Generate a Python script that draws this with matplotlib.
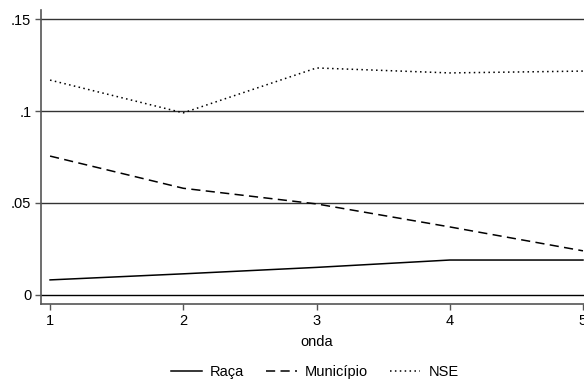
import matplotlib
matplotlib.use('Agg')
import matplotlib.pyplot as plt

plt.rcParams['font.family'] = ['Liberation Sans', 'DejaVu Sans']

onda = [1, 2, 3, 4, 5]
raca = [0.0082, 0.0115, 0.0150, 0.0190, 0.0190]
municipio = [0.0755, 0.0580, 0.0495, 0.0370, 0.0240]
nse = [0.1168, 0.0990, 0.1234, 0.1207, 0.1217]
yticks = [0, 0.05, 0.1, 0.15]
ytick_labels = ['0', '.05', '.1', '.15']

W, H = 584, 382
fig = plt.figure(figsize=(W / 100, H / 100), dpi=100)
# axes box in pixels: left 41, top 10, bottom 304, x=5 at 583 (right side is cut off)
x0, x1 = 0.932, 5.068
left_px, top_px, bot_px = 41, 10, 304
right_px = 583 + (583 - 450) * (x1 - 5)
ax = fig.add_axes([left_px / W, 1 - bot_px / H, (right_px - left_px) / W, (bot_px - top_px) / H])

for v in yticks:
    ax.axhline(v, color='black' if v == 0 else '#333333', lw=1.0, zorder=1)

ax.plot(onda, raca, color='black', lw=1.1, ls='-', label='Raça')
ax.plot(onda, municipio, color='black', lw=1.1, ls=(0, (6, 3.5)), label='Município')
ax.plot(onda, nse, color='black', lw=1.1, ls=(0, (1, 2.2)), label='NSE')

ax.set_xlim(x0, x1)
ax.set_ylim(-0.0049, 0.1549)
ax.set_xticks(onda)
ax.set_yticks(yticks)
ax.set_yticklabels(ytick_labels)
ax.tick_params(labelsize=10.5, color='#555555', length=4, width=1)
ax.tick_params(axis='y', pad=3)
ax.set_xlabel('onda', fontsize=10.5, labelpad=5)

for s in ['top', 'right']:
    ax.spines[s].set_visible(False)
for s in ['left', 'bottom']:
    ax.spines[s].set_color('#555555')
    ax.spines[s].set_linewidth(1.2)

fig.legend(loc='center', bbox_to_anchor=(315 / W, 1 - 372 / H), ncol=3, frameon=False,
           fontsize=10.5, handlelength=2.1, columnspacing=1.5, handletextpad=0.55,
           borderaxespad=0, borderpad=0)

fig.savefig('out.png', dpi=100)
